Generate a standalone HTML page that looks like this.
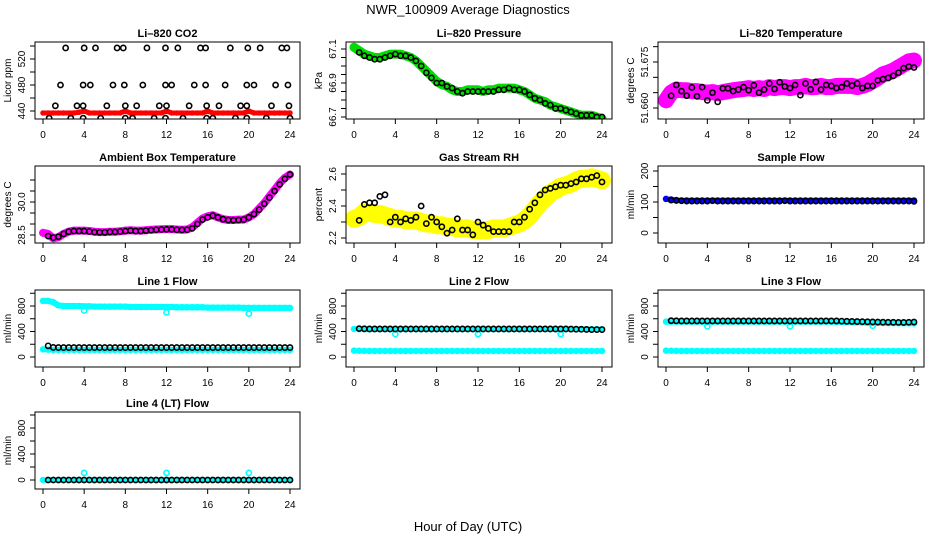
<!DOCTYPE html>
<html><head><meta charset="utf-8"><style>
body{margin:0;background:#fff}
svg{display:block;font-family:"Liberation Sans",sans-serif}
</style></head><body>
<svg id="c" width="936" height="540" viewBox="0 0 936 540">
<rect width="936" height="540" fill="#fff"/>
<text x="468" y="14" text-anchor="middle" font-size="13">NWR_100909  Average Diagnostics</text>
<text x="468" y="531" text-anchor="middle" font-size="13">Hour of Day (UTC)</text>
</svg>
<script>
const hoursAll=[0,0.5,1,1.5,2,2.5,3,3.5,4,4.5,5,5.5,6,6.5,7,7.5,8,8.5,9,9.5,10,10.5,11,11.5,12,12.5,13,13.5,14,14.5,15,15.5,16,16.5,17,17.5,18,18.5,19,19.5,20,20.5,21,21.5,22,22.5,23,23.5,24];
const xTicks=[0,4,8,12,16,20,24];
const outlierHours=[4,12,20];

const co2Red=[437,437,437,437,437,437,437,438,440,437,437,437,437,437,437,437,440,437,437,437,437,437,437,437,440,437,437,437,437,437,437,437,440,437,437,437,437,437,437,437,440,437,437,437,437,437,437,437,437];
const co2BlackHours=[2.2,4.0,5.1,7.2,7.8,10.1,11.9,13.1,15.3,15.8,18.2,19.9,21.1,23.2,23.7,1.7,3.9,4.6,6.8,7.9,9.7,11.9,12.5,14.7,15.8,17.7,19.8,20.5,22.6,23.8,1.2,3.3,3.9,6.2,8.0,9.1,11.3,12.0,14.2,15.9,17.1,19.2,19.8,22.2,23.9,0.6,2.7,3.9,5.6,8.0,8.7,10.8,11.9,13.6,15.9,16.5,18.7,19.8,21.7,24.0];
const co2Black=[537,537,537,537,537,537,537,537,537,537,537,537,537,537,537,480,480,480,480,480,480,480,480,480,480,480,480,480,480,480,448,448,448,448,448,448,448,448,448,448,448,448,448,448,448,429,429,429,429,429,429,429,429,429,429,429,429,429,429,429];

const presGreen=[67.11,67.09,67.07,67.06,67.05,67.05,67.06,67.07,67.07,67.07,67.06,67.05,67.03,67.0,66.97,66.94,66.91,66.89,66.88,66.86,66.85,66.85,66.86,66.86,66.86,66.85,66.86,66.86,66.87,66.87,66.87,66.87,66.86,66.85,66.83,66.81,66.8,66.79,66.77,66.76,66.75,66.74,66.73,66.72,66.71,66.71,66.71,66.7,66.69];
const presBlack=[67.08,67.06,67.05,67.04,67.04,67.05,67.06,67.07,67.06,67.06,67.05,67.03,67.0,66.96,66.93,66.9,66.9,66.88,66.87,66.85,66.84,66.85,66.85,66.85,66.85,66.85,66.85,66.86,66.86,66.87,66.86,66.86,66.85,66.83,66.81,66.8,66.78,66.77,66.75,66.75,66.74,66.73,66.72,66.71,66.71,66.71,66.7,66.7];

const ltMagenta=[51.6625,51.665,51.666,51.6658,51.6658,51.6655,51.6655,51.6652,51.665,51.6652,51.6648,51.6652,51.6655,51.6658,51.666,51.6662,51.6665,51.6662,51.6665,51.6662,51.6668,51.6665,51.6668,51.6668,51.6665,51.6668,51.6668,51.6672,51.6668,51.6668,51.6672,51.6668,51.6668,51.6672,51.6672,51.6672,51.6672,51.6668,51.6672,51.6678,51.6688,51.6698,51.671,51.6715,51.6722,51.6732,51.6742,51.6752,51.6755];
const ltBlack=[51.664,51.6675,51.6655,51.6640,51.6667,51.6638,51.6668,51.6625,51.6650,51.6620,51.6664,51.6664,51.6655,51.6660,51.6668,51.6658,51.6674,51.6650,51.6660,51.6680,51.6662,51.6684,51.6670,51.6665,51.6675,51.6642,51.6680,51.6661,51.6685,51.6660,51.6675,51.6672,51.6665,51.6668,51.6680,51.6673,51.6680,51.6665,51.6672,51.6672,51.6690,51.6694,51.6698,51.6705,51.6715,51.6730,51.6735,51.6732];

const ambMagenta=[28.6,28.55,28.35,28.4,28.55,28.65,28.7,28.7,28.7,28.68,28.65,28.63,28.63,28.65,28.65,28.67,28.7,28.72,28.7,28.7,28.72,28.74,28.75,28.76,28.77,28.77,28.75,28.74,28.75,28.85,29.05,29.25,29.35,29.4,29.3,29.22,29.18,29.18,29.2,29.2,29.3,29.45,29.7,29.95,30.25,30.55,30.85,31.1,31.25];
const ambBlack=[28.45,28.38,28.42,28.55,28.65,28.68,28.68,28.68,28.66,28.63,28.62,28.62,28.64,28.64,28.66,28.68,28.7,28.68,28.68,28.7,28.72,28.74,28.75,28.76,28.76,28.74,28.73,28.74,28.8,29.0,29.2,29.3,29.38,29.3,29.22,29.18,29.17,29.18,29.2,29.3,29.45,29.65,29.92,30.2,30.5,30.8,31.05,31.25];

const rhYellow=[2.32,2.33,2.36,2.36,2.35,2.35,2.34,2.33,2.32,2.32,2.31,2.31,2.31,2.3,2.29,2.29,2.28,2.28,2.27,2.27,2.26,2.26,2.26,2.25,2.25,2.25,2.25,2.26,2.26,2.26,2.27,2.28,2.29,2.31,2.34,2.38,2.42,2.45,2.48,2.5,2.52,2.53,2.54,2.56,2.57,2.57,2.58,2.57,2.56];
const rhBlack=[2.31,2.41,2.42,2.42,2.46,2.47,2.3,2.33,2.3,2.32,2.31,2.33,2.4,2.29,2.33,2.3,2.27,2.23,2.25,2.32,2.25,2.25,2.22,2.3,2.28,2.26,2.24,2.24,2.24,2.24,2.3,2.3,2.33,2.38,2.42,2.47,2.5,2.51,2.52,2.53,2.53,2.54,2.55,2.57,2.57,2.58,2.59,2.55];

const sampleBlue=[110,108,106,105,105,105,105,105,105,105,105,105,105,105,105,105,105,105,105,105,105,105,105,105,105,105,105,105,105,105,105,105,105,105,105,105,105,105,105,105,105,105,105,105,105,105,105,105,105];
const sampleBlack=[106,105,104,103,103,103,103,103,104,103,103,103,103,103,103,103,103,103,103,103,103,103,104,103,103,103,103,103,103,103,103,103,103,103,103,103,103,103,103,103,103,103,103,103,103,103,103,102];

const line1Upper=[880,880,860,810,800,800,800,800,795,795,790,790,790,790,790,790,790,785,785,785,785,785,785,785,785,785,780,780,780,780,780,780,775,775,775,775,775,775,775,770,770,770,770,770,770,770,770,770,770];
const line1Lower=[120,115,110,110,110,110,110,110,110,110,110,110,110,110,110,110,110,110,110,110,110,110,110,110,110,110,110,110,110,110,110,110,110,110,110,110,110,110,110,110,110,110,110,110,110,110,110,110,110];
const line1Black=[175,150,148,148,148,148,148,148,148,148,148,148,148,148,148,148,148,148,148,148,148,148,148,148,148,148,148,148,148,148,148,148,148,148,148,148,148,148,148,148,148,148,148,148,148,148,148,148];
const line1Outliers=[730,700,680];

const line2Upper=[440,438,436,436,436,436,436,436,436,436,436,436,436,436,436,436,436,436,436,436,436,436,436,436,436,436,436,436,436,436,436,436,436,436,436,436,436,436,436,436,436,436,436,436,436,436,436,436,436];
const line2Lower=[100,98,96,95,95,95,95,95,95,95,95,95,95,95,95,95,95,95,95,95,95,95,95,95,95,95,95,95,95,95,95,95,95,95,95,95,95,95,95,95,95,95,95,95,95,95,95,95,95];
const line2Black=[445,442,440,440,440,440,440,440,440,440,440,440,440,440,440,440,440,440,440,440,440,440,440,440,440,440,440,440,440,440,440,440,440,440,440,440,440,440,440,440,440,438,436,435,432,430,430,430];
const line2Outliers=[360,360,360];

const line3Upper=[555,555,555,555,555,555,555,555,555,555,555,555,555,555,555,555,555,555,555,555,555,555,555,555,555,555,555,555,555,555,555,555,555,552,550,548,546,544,542,540,538,536,535,534,533,532,531,530,530];
const line3Lower=[100,98,96,95,95,95,95,95,95,95,95,95,95,95,95,95,95,95,95,95,95,95,95,95,95,95,95,95,95,95,95,95,95,95,95,95,95,95,95,95,95,95,95,95,95,95,95,95,95];
const line3Black=[570,568,566,566,566,566,566,566,566,566,566,566,566,566,566,566,566,566,566,566,566,566,566,566,566,566,566,566,566,566,566,566,566,563,560,558,556,554,552,550,548,546,545,544,543,542,545,548];
const line3Outliers=[480,480,490];

const line4Cyan=[0,0,0,0,0,0,0,0,0,0,0,0,0,0,0,0,0,0,0,0,0,0,0,0,0,0,0,0,0,0,0,0,0,0,0,0,0,0,0,0,0,0,0,0,0,0,0,0,0];
const line4Black=[0,0,0,0,0,0,0,0,0,0,0,0,0,0,0,0,0,0,0,0,0,0,0,0,0,0,0,0,0,0,0,0,0,0,0,0,0,0,0,0,0,0,0,0,0,0,0,0];
const line4Outliers=[110,110,110];

const flowTicks=[0,200,400,600,800,1000];
const flowLabels=[0,400,800];

const NS='http://www.w3.org/2000/svg';
const svg=document.getElementById('c');
const colLeft=[35,346,658], colRight=[300,612,924];
const rowTop=[42,166,290,412], rowBot=[119,243,367,489];
const blackHours=hoursAll.slice(1);

function mk(tag,attrs,parent){const e=document.createElementNS(NS,tag);for(const k in attrs)e.setAttribute(k,attrs[k]);(parent||svg).appendChild(e);return e;}

const panels=[
 {key:'co2',title:'Li\u2013820 CO2',ylab:'Licor ppm',r:0,c:0,y0:440,p0:111,y1:520,p1:59,ticks:[440,460,480,500,520,540],labels:[440,480,520],fmt:v=>v,
  series:[{h:hoursAll,v:co2Red,col:'#ff0000',w:5,r:2},{h:co2BlackHours,v:co2Black,col:'#000',pts:true}]},
 {key:'pressure',title:'Li\u2013820 Pressure',ylab:'kPa',r:0,c:1,y0:66.7,p0:117,y1:67.1,p1:49,ticks:[66.7,66.75,66.8,66.85,66.9,66.95,67,67.05,67.1],labels:[66.7,66.9,67.1],fmt:v=>v.toFixed(1),
  series:[{h:hoursAll,v:presGreen,col:'#00dd00',w:9,r:3},{h:blackHours,v:presBlack,col:'#000',pts:true}]},
 {key:'li820-temp',title:'Li\u2013820 Temperature',ylab:'degrees C',r:0,c:2,y0:51.66,p0:108,y1:51.675,p1:62,ticks:[51.66,51.665,51.67,51.675,51.68],labels:[51.66,51.675],fmt:v=>v.toFixed(3),
  series:[{h:hoursAll,v:ltMagenta,col:'#ff00ff',w:16,r:3},{h:blackHours,v:ltBlack,col:'#000',pts:true}]},
 {key:'ambient-temp',title:'Ambient Box Temperature',ylab:'degrees C',r:1,c:0,y0:28.5,p0:235,y1:30,p1:202,ticks:[28.5,29,29.5,30,30.5,31],labels:[28.5,30],fmt:v=>v.toFixed(1),
  series:[{h:hoursAll,v:ambMagenta,col:'#ff00ff',w:8,r:3},{h:blackHours,v:ambBlack,col:'#000',pts:true}]},
 {key:'rh',title:'Gas Stream RH',ylab:'percent',r:1,c:1,y0:2.2,p0:238,y1:2.6,p1:174,ticks:[2.2,2.3,2.4,2.5,2.6],labels:[2.2,2.4,2.6],fmt:v=>v.toFixed(1),
  series:[{h:hoursAll,v:rhYellow,col:'#ffff00',w:18,r:3},{h:blackHours,v:rhBlack,col:'#000',pts:true}]},
 {key:'sample-flow',title:'Sample Flow',ylab:'ml/min',r:1,c:2,y0:0,p0:233,y1:200,p1:171,ticks:[0,50,100,150,200],labels:[0,100,200],fmt:v=>v,
  series:[{h:hoursAll,v:sampleBlue,col:'#0000ff',w:5,r:2.5},{h:blackHours,v:sampleBlack,col:'#000',pts:true}]},
 {key:'line1-flow',title:'Line 1 Flow',ylab:'ml/min',r:2,c:0,y0:0,p0:357,y1:800,p1:306,ticks:flowTicks,labels:flowLabels,fmt:v=>v,
  series:[{h:hoursAll,v:line1Upper,col:'#00ffff',w:6,r:2.5},{h:hoursAll,v:line1Lower,col:'#00ffff',w:5,r:2.5},{h:outlierHours,v:line1Outliers,col:'#00ffff',pts:true},{h:blackHours,v:line1Black,col:'#000',pts:true}]},
 {key:'line2-flow',title:'Line 2 Flow',ylab:'ml/min',r:2,c:1,y0:0,p0:357,y1:800,p1:306,ticks:flowTicks,labels:flowLabels,fmt:v=>v,
  series:[{h:hoursAll,v:line2Upper,col:'#00ffff',w:5,r:2.5},{h:hoursAll,v:line2Lower,col:'#00ffff',w:5,r:2.5},{h:outlierHours,v:line2Outliers,col:'#00ffff',pts:true},{h:blackHours,v:line2Black,col:'#000',pts:true}]},
 {key:'line3-flow',title:'Line 3 Flow',ylab:'ml/min',r:2,c:2,y0:0,p0:357,y1:800,p1:306,ticks:flowTicks,labels:flowLabels,fmt:v=>v,
  series:[{h:hoursAll,v:line3Upper,col:'#00ffff',w:6,r:2.5},{h:hoursAll,v:line3Lower,col:'#00ffff',w:5,r:2.5},{h:outlierHours,v:line3Outliers,col:'#00ffff',pts:true},{h:blackHours,v:line3Black,col:'#000',pts:true}]},
 {key:'line4-flow',title:'Line 4 (LT) Flow',ylab:'ml/min',r:3,c:0,y0:0,p0:480,y1:800,p1:428,ticks:flowTicks,labels:flowLabels,fmt:v=>v,
  series:[{h:hoursAll,v:line4Cyan,col:'#00ffff',w:5,r:2.5},{h:outlierHours,v:line4Outliers,col:'#00ffff',pts:true},{h:blackHours,v:line4Black,col:'#000',pts:true}]}
];

panels.forEach(p=>{
  const L=colLeft[p.c],R=colRight[p.c],T=rowTop[p.r],B=rowBot[p.r];
  const xs=h=>L+8+(h/24)*(R-L-18);
  const ys=v=>p.p0+(v-p.y0)*(p.p1-p.p0)/(p.y1-p.y0);
  const g=mk('g',{});
  
  
  const cp='clip-'+p.key;
  const cl=mk('clipPath',{id:cp},g);mk('rect',{x:L,y:T,width:R-L,height:B-T},cl);
  const data=mk('g',{'clip-path':'url(#'+cp+')'},g);
  p.series.forEach((s,si)=>{
    const sg=mk('g',{},data);
    
    
    if(!s.pts){
      const pts=s.h.map((h,i)=>xs(h).toFixed(1)+','+ys(s.v[i]).toFixed(1)).join(' ');
      mk('polyline',{points:pts,fill:'none',stroke:s.col,'stroke-width':s.w,'stroke-linejoin':'round','stroke-linecap':'round'},sg);
      s.h.forEach((h,i)=>{const c=mk('circle',{cx:xs(h),cy:ys(s.v[i]),r:s.r,fill:'none',stroke:s.col,'stroke-width':1.5},sg);});
    } else {
      s.h.forEach((h,i)=>{const c=mk('circle',{cx:xs(h),cy:ys(s.v[i]),r:2.6,fill:'none',stroke:s.col,'stroke-width':1.6},sg);
        
        });
    }
  });
  const box=mk('rect',{x:L,y:T,width:R-L,height:B-T,fill:'none',stroke:'#000','stroke-width':1},g);
  
  
  const t=mk('text',{x:(L+R)/2,y:T-5,'text-anchor':'middle','font-size':11,'font-weight':'bold'},g);t.textContent=p.title;
  
  
  // x axis
  const xa=mk('g',{},g);
  
  
  mk('line',{x1:xs(0),x2:xs(24),y1:B,y2:B,stroke:'#000'},xa);
  xTicks.forEach(v=>{mk('line',{x1:xs(v),x2:xs(v),y1:B,y2:B+5,stroke:'#000'},xa);
    const tx=mk('text',{x:xs(v),y:B+19,'text-anchor':'middle','font-size':10},xa);tx.textContent=v;});
  // y axis
  const ya=mk('g',{},g);
  
  
  const tk=p.ticks;
  mk('line',{x1:L,x2:L,y1:ys(tk[0]),y2:ys(tk[tk.length-1]),stroke:'#000'},ya);
  tk.forEach(v=>{const y=ys(v);if(y<T-6)return;mk('line',{x1:L-5,x2:L,y1:y,y2:y,stroke:'#000'},ya);});
  p.labels.forEach(v=>{const y=ys(v);const tx=mk('text',{x:L-10,y:y,'text-anchor':'middle','font-size':10,transform:'rotate(-90 '+(L-10)+' '+y+')'},ya);tx.textContent=p.fmt(v);});
  const yl=mk('text',{x:L-24,y:(T+B)/2,'text-anchor':'middle','font-size':10,transform:'rotate(-90 '+(L-24)+' '+((T+B)/2)+')'},g);yl.textContent=p.ylab;
  
  
});
</script>
</body></html>
